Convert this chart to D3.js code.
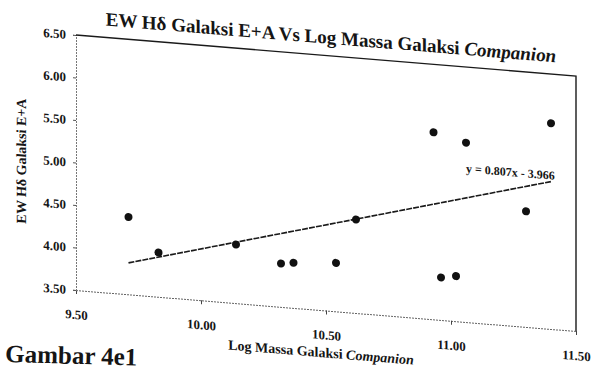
<!DOCTYPE html>
<html>
<head>
<meta charset="utf-8">
<script src="https://cdn.jsdelivr.net/npm/d3@7"></script>
<style>
  body { margin: 0; background: #fff; }
  svg { display: block; }
  text { font-family: "Liberation Serif", "Times New Roman", serif; font-weight: bold; fill: #151515; }
</style>
</head>
<body>
<svg id="chart" width="601" height="369"></svg>
<script>
// log massa galaksi companion (x) vs EW Hδ galaksi E+A (y)
const logMassa = [9.71, 9.83, 10.14, 10.32, 10.37, 10.54, 10.62, 10.93, 10.96, 11.02, 11.06, 11.30, 11.40]
const ewHdelta = [4.41, 4.02, 4.19, 4.01, 4.03, 4.07, 4.60, 5.70, 4.00, 4.03, 5.61, 4.86, 5.92]
const xTicks = [9.5, 10.0, 10.5, 11.0, 11.5]
const yTicks = [3.5, 4.0, 4.5, 5.0, 5.5, 6.0, 6.5]
const trendSlope = 0.807
const trendIntercept = -3.966

const width = 500, height = 255

const svg = d3.select('#chart')

// the scanned page is tilted, so the whole plot is skewed a bit
const g = svg.append('g')
    .attr('transform', 'translate(76,35) skewY(4.69)')

const x = d3.scaleLinear().domain([9.5, 11.5]).range([0, width])
const y = d3.scaleLinear().domain([3.5, 6.5]).range([height, 0])

const fmt = d3.format('.2f')

// x axis
const xAxis = g.append('g')
    .attr('transform', `translate(0,${height})`)
    .call(d3.axisBottom(x).tickValues(xTicks).tickFormat(fmt).tickSize(4))
xAxis.select('.domain').attr('stroke', '#666').attr('stroke-dasharray', '2,1')
xAxis.selectAll('.tick line').attr('stroke', '#444')
xAxis.selectAll('text')
    .attr('y', 29).attr('dy', null)
    .style('font-size', '13px')

// y axis
const yAxis = g.append('g')
    .call(d3.axisLeft(y).tickValues(yTicks).tickFormat(fmt).tickSize(3).tickPadding(7))
yAxis.select('.domain').attr('stroke', '#777').attr('stroke-dasharray', '2,1')
yAxis.selectAll('.tick line').attr('stroke', '#555')
yAxis.selectAll('text').style('font-size', '13px')

// top and right border of the plot area
g.append('path')
    .attr('d', `M0,0H${width}V${height}`)
    .attr('fill', 'none')
    .attr('stroke', '#1a1a1a')
    .attr('stroke-width', 1.4)

// linear trendline
const xr = d3.extent(logMassa)
const line = d3.line()
    .x(d => x(d))
    .y(d => y(trendSlope * d + trendIntercept))
g.append('path')
    .datum(xr)
    .attr('fill', 'none')
    .attr('stroke', '#1a1a1a')
    .attr('stroke-width', 1.6)
    .attr('stroke-dasharray', '6,1.2')
    .attr('d', line)

g.selectAll('.pt')
    .data(logMassa)
    .enter().append('circle')
    .attr('class', 'pt')
    .attr('cx', d => x(d))
    .attr('cy', (d, i) => y(ewHdelta[i]))
    .attr('r', 4)
    .style('fill', '#111')

// equation label
g.append('text')
    .attr('x', x(11.06))
    .attr('y', y(5.26))
    .style('font-size', '12px')
    .text('y = 0.807x - 3.966')

// title
const title = g.append('text')
    .attr('x', width / 2 + 5)
    .attr('y', -12)
    .attr('text-anchor', 'middle')
    .style('font-size', '19px')
title.append('tspan').text('EW Hδ Galaksi E+A Vs Log Massa Galaksi ')
title.append('tspan').style('font-style', 'italic').text('Companion')

// x axis title
const xt = g.append('text')
    .attr('x', width / 2 - 5)
    .attr('y', height + 47)
    .attr('text-anchor', 'middle')
    .style('font-size', '14px')
xt.append('tspan').text('Log Massa Galaksi ')
xt.append('tspan').style('font-style', 'italic').text('Companion')

// y axis title
g.append('text')
    .attr('transform', `translate(-50,${height / 2 + 3}) rotate(-90)`)
    .attr('text-anchor', 'middle')
    .style('font-size', '14px')
    .text('EW Hδ Galaksi E+A')

// figure caption
svg.append('text')
    .attr('x', 5)
    .attr('y', 362)
    .attr('transform', 'rotate(1.5,5,362)')
    .style('font-size', '25px')
    .text('Gambar 4e1')
</script>
</body>
</html>
